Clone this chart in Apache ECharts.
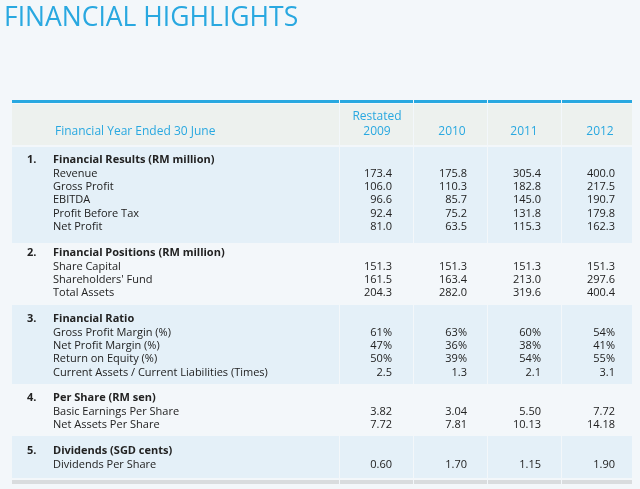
<!DOCTYPE html>
<html><head><meta charset="utf-8">
<script src="https://cdn.jsdelivr.net/npm/echarts@6/dist/echarts.min.js"></script>
<style>html,body{margin:0;padding:0;background:#f3f7fa}#main{width:640px;height:489px}</style>
</head><body><div id="main"></div>
<script>
// financial highlights table
var years = ['2009', '2010', '2011', '2012'];
var sections = [
  {no: '1.', title: 'Financial Results (RM million)', y: 160, shade: [147, 243], rows: [
    ['Revenue', '173.4', '175.8', '305.4', '400.0'],
    ['Gross Profit', '106.0', '110.3', '182.8', '217.5'],
    ['EBITDA', '96.6', '85.7', '145.0', '190.7'],
    ['Profit Before Tax', '92.4', '75.2', '131.8', '179.8'],
    ['Net Profit', '81.0', '63.5', '115.3', '162.3']]},
  {no: '2.', title: 'Financial Positions (RM million)', y: 253, rows: [
    ['Share Capital', '151.3', '151.3', '151.3', '151.3'],
    ["Shareholders' Fund", '161.5', '163.4', '213.0', '297.6'],
    ['Total Assets', '204.3', '282.0', '319.6', '400.4']]},
  {no: '3.', title: 'Financial Ratio', y: 319, shade: [305, 384], rows: [
    ['Gross Profit Margin (%)', '61%', '63%', '60%', '54%'],
    ['Net Profit Margin (%)', '47%', '36%', '38%', '41%'],
    ['Return on Equity (%)', '50%', '39%', '54%', '55%'],
    ['Current Assets / Current Liabilities (Times)', '2.5', '1.3', '2.1', '3.1']]},
  {no: '4.', title: 'Per Share (RM sen)', y: 398, rows: [
    ['Basic Earnings Per Share', '3.82', '3.04', '5.50', '7.72'],
    ['Net Assets Per Share', '7.72', '7.81', '10.13', '14.18']]},
  {no: '5.', title: 'Dividends (SGD cents)', y: 451, shade: [436, 478], rows: [
    ['Dividends Per Share', '0.60', '1.70', '1.15', '1.90']]}
];
var colX = [12, 339, 413, 487, 561, 632];   // column edges
var valRight = [392, 467, 541, 615];
var blue = '#29a8e0', ink = '#222';
var font = '"Open Sans", "Noto Sans", sans-serif';

function band(y0, y1, color) {
  var out = [];
  for (var i = 0; i < colX.length - 1; i++) {
    out.push({type: 'rect', shape: {x: colX[i] + (i ? 1 : 0), y: y0, width: colX[i + 1] - colX[i] - (i ? 1 : 0), height: y1 - y0},
      style: {fill: color}});
  }
  return out;
}
function txt(x, y, s, opt) {
  opt = opt || {};
  return {type: 'text', x: x, y: y, style: {text: s, fill: opt.fill || ink, font: (opt.weight || 'normal') + ' ' + (opt.size || 11) + 'px ' + font,
    align: opt.align || 'left', verticalAlign: 'middle'}};
}

var g = [];
g.push(txt(4, 18, 'FINANCIAL HIGHLIGHTS', {fill: blue, size: 26.5}));
g = g.concat(band(100, 103, blue));
g = g.concat(band(104, 145, '#edf1ee'));
g.push(txt(55, 132, 'Financial Year Ended 30 June', {fill: blue, size: 12}));
g.push(txt(377, 117, 'Restated', {fill: blue, size: 12, align: 'center'}));
var yc = [377, 452, 524, 600];
years.forEach(function (yr, i) { g.push(txt(yc[i], 132, yr, {fill: blue, size: 12, align: 'center'})); });

sections.forEach(function (s) {
  if (s.shade) g = g.concat(band(s.shade[0], s.shade[1], '#e4f0f8'));
  g.push(txt(27, s.y, s.no, {weight: 'bold'}));
  g.push(txt(53, s.y, s.title, {weight: 'bold'}));
  s.rows.forEach(function (r, k) {
    var y = s.y + 13.4 * (k + 1);
    g.push(txt(53, y, r[0]));
    for (var j = 1; j < 5; j++) g.push(txt(valRight[j - 1], y, r[j], {align: 'right'}));
  });
});
g = g.concat(band(480, 484, '#d9dcde'));

var chart = echarts.init(document.getElementById('main'));
chart.setOption({backgroundColor: '#f3f7fa', graphic: g});
</script></body></html>
